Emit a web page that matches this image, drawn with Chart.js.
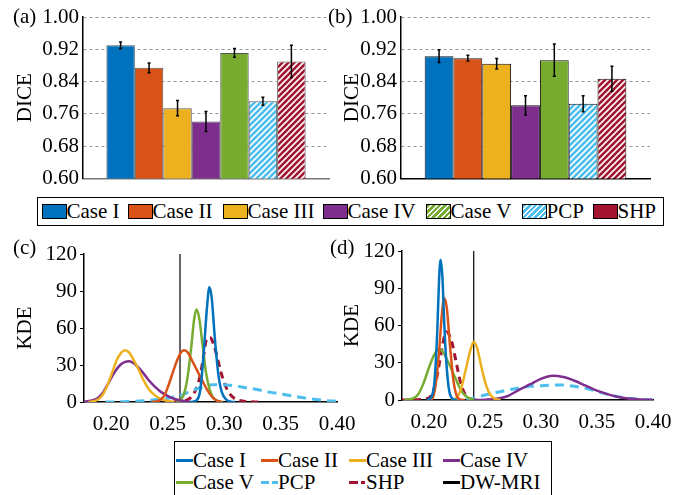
<!DOCTYPE html>
<html>
<head>
<meta charset="utf-8">
<script src="https://cdn.jsdelivr.net/npm/chart.js@4.4.0/dist/chart.umd.min.js"></script>
<style>
  body { margin: 0; background: #fff; }
  #fig { position: relative; width: 696px; height: 495px; overflow: hidden; font-family: 'Liberation Serif', serif; color: #000; }
  #fig canvas { position: absolute; }
  .lab { position: absolute; font-size: 21px; line-height: 21px; font-family: 'Liberation Serif', serif; }
  .legend { position: absolute; box-sizing: border-box; border: 1.5px solid #000; background: #fff; font-size: 21px; font-family: 'Liberation Serif', serif; }
  #legTop { left: 37px; top: 197px; width: 627px; height: 29px; }
  #legTop .item { position: absolute; top: 2px; height: 22px; display: flex; align-items: center; white-space: nowrap; }
  #legTop .sw { width: 25px; height: 15px; box-sizing: border-box; border: 1px solid #000; }
  #legBot { left: 174px; top: 441px; width: 378px; height: 56px; }
  #legBot .item { position: absolute; display: flex; align-items: center; white-space: nowrap; height: 22px; }
  #legBot .ln { width: 17px; height: 3px; }
</style>
</head>
<body>
<div id="fig">
  <canvas id="chartA" width="340" height="195" style="left:0;top:0"></canvas>
  <canvas id="chartB" width="340" height="195" style="left:340px;top:0"></canvas>
  <canvas id="chartC" width="360" height="200" style="left:0;top:235px"></canvas>
  <canvas id="chartD" width="356" height="200" style="left:340px;top:235px"></canvas>
  <div class="lab" style="left:13px;top:6px">(a)</div>
  <div class="lab" style="left:328px;top:6px">(b)</div>
  <div class="lab" style="left:13px;top:237px">(c)</div>
  <div class="lab" style="left:330px;top:237px">(d)</div>
  <div class="legend" id="legTop"></div>
  <div class="legend" id="legBot"></div>
</div>
<script>
const FONT = "'Liberation Serif', serif";

const seriesNames = ["Case I", "Case II", "Case III", "Case IV", "Case V", "PCP", "SHP"];
const seriesColors = ["#0072BD", "#D95319", "#EDB120", "#7E2F8E", "#77AC30", "#4DBEEE", "#A2142F"];

// DICE bars
const diceA = [0.930, 0.874, 0.774, 0.741, 0.911, 0.791, 0.890];
const errA  = [0.008, 0.012, 0.019, 0.025, 0.011, 0.010, 0.040];
const diceB = [0.903, 0.898, 0.884, 0.781, 0.893, 0.785, 0.847];
const errB  = [0.016, 0.007, 0.013, 0.024, 0.040, 0.020, 0.031];
const diceTicks = [0.60, 0.68, 0.76, 0.84, 0.92, 1.00];

// KDE curves, panel (c)
const c1x = [0.270, 0.275, 0.279, 0.282, 0.285, 0.287, 0.289, 0.292, 0.295, 0.298, 0.302, 0.306, 0.310];
const c1y = [0, 1, 10, 40, 78, 93, 85, 50, 22, 8, 2, 0.3, 0];
const c2x = [0.236, 0.242, 0.247, 0.251, 0.255, 0.259, 0.2625, 0.265, 0.268, 0.272, 0.277, 0.282, 0.287, 0.292, 0.298];
const c2y = [0, 1, 5, 14, 25, 35, 41, 42, 40, 33, 24, 15, 7, 2, 0];
const c3x = [0.180, 0.186, 0.191, 0.196, 0.201, 0.205, 0.209, 0.2127, 0.216, 0.220, 0.224, 0.228, 0.233, 0.238, 0.244, 0.250, 0.256];
const c3y = [0, 1, 4, 12, 24, 34, 40, 42, 40, 34, 27, 19, 11, 6, 2.5, 0.8, 0];
const c4x = [0.176, 0.182, 0.188, 0.193, 0.198, 0.203, 0.208, 0.2125, 0.2155, 0.219, 0.223, 0.228, 0.233, 0.238, 0.243, 0.248, 0.253, 0.258, 0.263, 0.270];
const c4y = [0.3, 1, 3, 8, 16, 24, 30, 32.5, 33, 32, 29, 24, 18, 13, 9, 6, 3.5, 2, 1, 0.3];
const c5x = [0.258, 0.262, 0.265, 0.268, 0.271, 0.2735, 0.2755, 0.278, 0.281, 0.284, 0.287, 0.290, 0.294, 0.299];
const c5y = [0, 2, 8, 22, 45, 67, 75, 68, 46, 24, 11, 4, 1, 0];
const c6x = [0.195, 0.21, 0.22, 0.23, 0.24, 0.25, 0.26, 0.27, 0.28, 0.29, 0.30, 0.31, 0.32, 0.33, 0.34, 0.35, 0.36, 0.37, 0.38, 0.39, 0.40];
const c6y = [0, 0.2, 0.5, 1, 2, 3, 5, 8.5, 12, 14, 14, 13, 11.5, 10, 8, 6.5, 5, 3.5, 2.2, 1.2, 0.5];
const c7x = [0.255, 0.262, 0.267, 0.271, 0.275, 0.279, 0.282, 0.285, 0.288, 0.291, 0.294, 0.297, 0.300, 0.304, 0.309, 0.315, 0.322, 0.330];
const c7y = [0, 0.5, 1.5, 4, 10, 22, 38, 52, 52, 46, 36, 25, 16, 8, 3, 1, 0.3, 0];
const dwmriC = 0.261;

// KDE curves, panel (d)
const d1x = [0.198, 0.202, 0.205, 0.2075, 0.209, 0.2104, 0.212, 0.214, 0.216, 0.218, 0.221, 0.225];
const d1y = [0, 2, 15, 56, 95, 113, 100, 56, 25, 8, 1, 0];
const d2x = [0.200, 0.203, 0.206, 0.209, 0.2115, 0.2137, 0.216, 0.219, 0.222, 0.225, 0.228, 0.232];
const d2y = [0, 1, 12, 38, 68, 82, 74, 42, 15, 3, 0.5, 0];
const d3x = [0.220, 0.225, 0.229, 0.233, 0.237, 0.240, 0.243, 0.247, 0.251, 0.255, 0.259, 0.264];
const d3y = [0, 2, 10, 25, 40, 47, 42, 26, 12, 4, 1, 0];
const d4x = [0.240, 0.250, 0.260, 0.270, 0.280, 0.290, 0.300, 0.310, 0.320, 0.330, 0.340, 0.350, 0.360, 0.370, 0.380, 0.390, 0.400];
const d4y = [0, 0.3, 1, 3, 8, 12.5, 17, 19.5, 18.5, 15.5, 11.5, 7.5, 4.5, 2.2, 1, 0.4, 0];
const d5x = [0.178, 0.185, 0.190, 0.195, 0.200, 0.205, 0.209, 0.213, 0.218, 0.223, 0.228, 0.233, 0.238, 0.243];
const d5y = [0, 1, 4, 13, 26, 37, 41, 38, 29, 19, 9, 3, 0.8, 0];
const d6x = [0.22, 0.23, 0.24, 0.25, 0.26, 0.27, 0.28, 0.29, 0.30, 0.31, 0.32, 0.33, 0.34, 0.35, 0.36, 0.37, 0.38, 0.39, 0.40];
const d6y = [0, 0.5, 1.5, 4, 6, 8, 9.5, 11, 11.5, 12, 12, 11, 9.5, 7, 4.5, 2.5, 1.2, 0.5, 0.2];
const d7x = [0.176, 0.190, 0.198, 0.203, 0.207, 0.211, 0.2155, 0.220, 0.224, 0.228, 0.232, 0.236, 0.240, 0.245];
const d7y = [0, 0.3, 1, 5, 18, 38, 55, 48, 32, 15, 5, 1, 0.2, 0];
const dwmriD = 0.240;

const kdeTicks = [0.20, 0.25, 0.30, 0.35, 0.40];

// line styles for the KDE series
const lineDash = [[], [], [], [], [], [9, 6], [7, 5]];

function hatch(color) {
  const c = document.createElement("canvas");
  c.width = 6; c.height = 6;
  const g = c.getContext("2d");
  g.fillStyle = color;
  g.fillRect(0, 0, 6, 6);
  g.strokeStyle = "#fff";
  g.lineWidth = 1.6;
  g.beginPath();
  g.moveTo(0, 6); g.lineTo(6, 0);
  g.moveTo(-1, 1); g.lineTo(1, -1);
  g.moveTo(5, 7); g.lineTo(7, 5);
  g.stroke();
  return g.createPattern(c, "repeat");
}

const barFill = seriesColors.map((c, i) => i >= 5 ? hatch(c) : c);

const errorBars = {
  id: "errorBars",
  afterDatasetsDraw(chart, args, opts) {
    const errs = opts.errs;
    if (!errs) return;
    const y = chart.scales.y;
    const ctx = chart.ctx;
    ctx.save();
    ctx.strokeStyle = "#000";
    ctx.lineWidth = 1.5;
    chart.data.datasets.forEach((ds, i) => {
      const bar = chart.getDatasetMeta(i).data[0];
      const v = ds.data[0];
      const top = y.getPixelForValue(v + errs[i]);
      const bot = y.getPixelForValue(v - errs[i]);
      ctx.beginPath();
      ctx.moveTo(bar.x, top); ctx.lineTo(bar.x, bot);
      ctx.moveTo(bar.x - 1.5, top); ctx.lineTo(bar.x + 1.5, top);
      ctx.moveTo(bar.x - 1.5, bot); ctx.lineTo(bar.x + 1.5, bot);
      ctx.stroke();
    });
    ctx.restore();
  }
};

function barChart(id, values, errs, edge, axisColor, yWidth, titlePad, padRight) {
  return new Chart(document.getElementById(id), {
    type: "bar",
    data: {
      labels: [""],
      datasets: seriesNames.map((n, i) => ({
        label: n,
        data: [values[i]],
        backgroundColor: barFill[i],
        borderColor: edge,
        borderWidth: 1,
        categoryPercentage: 0.81,
        barPercentage: 1
      }))
    },
    options: {
      responsive: false,
      animation: false,
      layout: { padding: { left: 0, top: 17, right: padRight, bottom: 15 } },
      plugins: { legend: { display: false }, tooltip: { enabled: false }, errorBars: { errs: errs } },
      scales: {
        x: {
          ticks: { display: false },
          grid: { display: false },
          border: { color: axisColor, width: 1.5 },
          afterFit: s => { s.height = 0; }
        },
        y: {
          min: diceTicks[0],
          max: diceTicks[diceTicks.length - 1],
          afterBuildTicks: s => { s.ticks = diceTicks.map(v => ({ value: v })); },
          ticks: { callback: v => v.toFixed(2), color: "#000", font: { family: FONT, size: 21 }, padding: 4 },
          grid: { color: "#9a9a9a", drawTicks: false },
          border: { color: "#000", width: 1.5, dash: [3, 3] },
          title: { display: true, text: "DICE", color: "#000", font: { family: FONT, size: 21 }, padding: { top: titlePad, bottom: 0 } },
          afterFit: s => { s.width = yWidth; }
        }
      }
    },
    plugins: [errorBars]
  });
}

function pts(xs, ys) {
  return xs.map((x, i) => ({ x: x, y: ys[i] }));
}

function kdeChart(id, curves, dwmri, yWidth, titlePad, pad) {
  const datasets = curves.map((c, i) => ({
    label: seriesNames[i],
    data: pts(c[0], c[1]),
    borderColor: seriesColors[i],
    borderWidth: i >= 5 ? 3 : 2.5,
    borderDash: lineDash[i],
    pointRadius: 0,
    cubicInterpolationMode: "monotone",
    fill: false
  }));
  datasets.push({
    label: "DW-MRI",
    data: [{ x: dwmri, y: 0 }, { x: dwmri, y: 120 }],
    borderColor: "#000",
    borderWidth: 1.2,
    pointRadius: 0
  });
  return new Chart(document.getElementById(id), {
    type: "line",
    data: { datasets: datasets },
    options: {
      responsive: false,
      animation: false,
      layout: { padding: pad },
      plugins: { legend: { display: false }, tooltip: { enabled: false } },
      scales: {
        x: {
          type: "linear",
          min: 0.176,
          max: 0.40,
          afterBuildTicks: s => { s.ticks = kdeTicks.map(v => ({ value: v })); },
          ticks: { callback: v => v.toFixed(2), color: "#000", font: { family: FONT, size: 21 }, padding: 2, maxRotation: 0 },
          grid: { display: false },
          border: { color: "#000", width: 1.5 },
          afterFit: s => { s.height = 30; }
        },
        y: {
          min: 0,
          max: 120,
          ticks: { stepSize: 30, color: "#000", font: { family: FONT, size: 21 }, padding: 3 },
          grid: { drawOnChartArea: false, tickLength: 4, color: "#000" },
          border: { color: "#000", width: 1.5 },
          title: { display: true, text: "KDE", color: "#000", font: { family: FONT, size: 21 }, padding: { top: titlePad, bottom: 0 } },
          afterFit: s => { s.width = yWidth; }
        }
      }
    }
  });
}

barChart("chartA", diceA, errA, "#555", "#777", 83, 13, 11);
barChart("chartB", diceB, errB, "#111", "#000", 61, 0, 30);

kdeChart("chartC",
  [[c1x, c1y], [c2x, c2y], [c3x, c3y], [c4x, c4y], [c5x, c5y], [c6x, c6y], [c7x, c7y]],
  dwmriC, 84, 13, { left: 0, top: 19, right: 23, bottom: 3 });
kdeChart("chartD",
  [[d1x, d1y], [d2x, d2y], [d3x, d3y], [d4x, d4y], [d5x, d5y], [d6x, d6y], [d7x, d7y]],
  dwmriD, 62, 0, { left: 0, top: 16, right: 43, bottom: 5 });

// bar legend (Case V and PCP drawn hatched, SHP solid, as in the figure)
const legTop = document.getElementById("legTop");
const topX = [3.5, 89.5, 184.5, 284.5, 387.5, 483.5, 554.5];
seriesNames.forEach((n, i) => {
  const item = document.createElement("div");
  item.className = "item";
  item.style.left = topX[i] + "px";
  const sw = document.createElement("span");
  sw.className = "sw";
  const col = seriesColors[i];
  sw.style.background = (i === 4 || i === 5)
    ? "repeating-linear-gradient(135deg, " + col + " 0 2.5px, #fff 2.5px 4px)"
    : col;
  item.appendChild(sw);
  item.appendChild(document.createTextNode(n));
  legTop.appendChild(item);
});

// KDE legend
const legBot = document.getElementById("legBot");
const botNames = seriesNames.concat(["DW-MRI"]);
const botColors = seriesColors.concat(["#000"]);
const colX = [1, 86, 174, 268];
botNames.forEach((n, i) => {
  const item = document.createElement("div");
  item.className = "item";
  item.style.left = colX[i % 4] + "px";
  item.style.top = (i < 4 ? 7 : 29) + "px";
  const ln = document.createElement("span");
  ln.className = "ln";
  const col = botColors[i];
  if (i === 5) ln.style.background = "linear-gradient(90deg, " + col + " 0 8px, transparent 8px 11px, " + col + " 11px 17px)";
  else if (i === 6) ln.style.background = "linear-gradient(90deg, " + col + " 0 9px, transparent 9px 12px, " + col + " 12px 16px, transparent 16px)";
  else ln.style.background = col;
  item.appendChild(ln);
  item.appendChild(document.createTextNode(n));
  legBot.appendChild(item);
});
</script>
</body>
</html>
